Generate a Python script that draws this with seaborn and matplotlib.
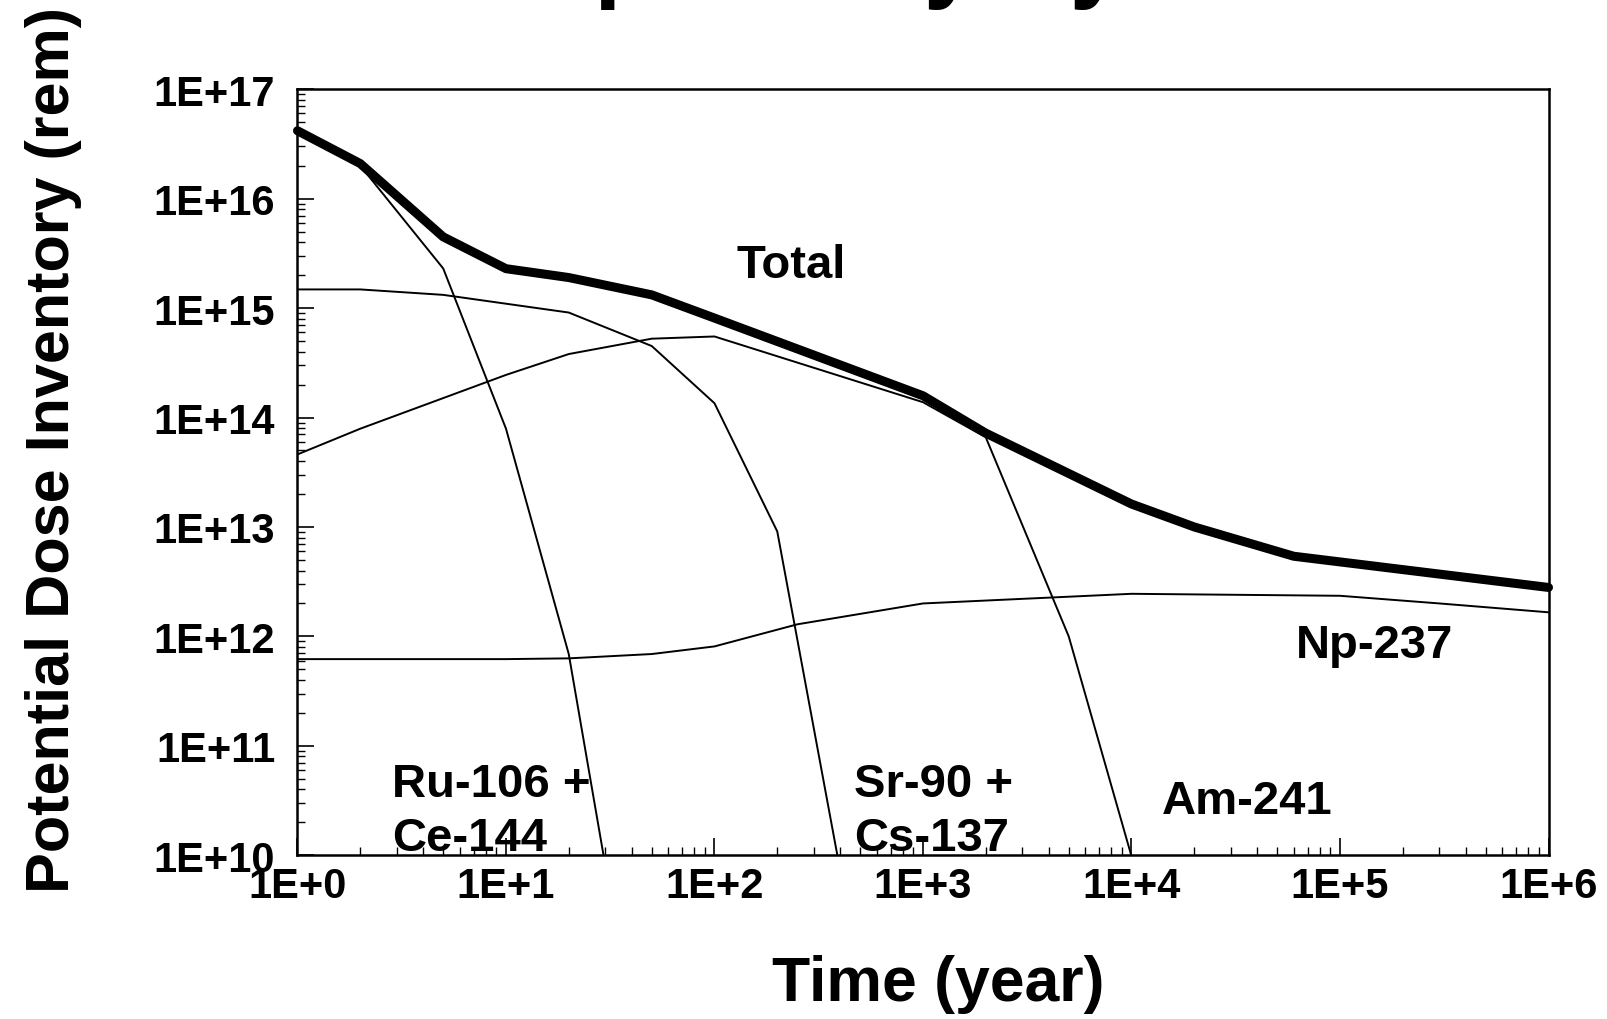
import matplotlib
matplotlib.use("Agg")
import matplotlib.pyplot as plt
import seaborn as sns
import numpy as np
import pandas as pd

# ---- data ----
total_t = [1, 2, 5, 10, 20, 50, 100, 1000, 2000, 1e4, 2e4, 6e4, 1e6]
total_v = [4.17e16, 2.09e16, 4.47e15, 2.29e15, 1.90e15, 1.32e15, 8.1e14,
           1.58e14, 7.2e13, 1.62e13, 1.0e13, 5.4e12, 2.8e12]

ru_t = [1, 2, 5, 10, 20, 30]
ru_v = [4.0e16, 2.0e16, 2.3e15, 7.9e13, 6.9e11, 7.9e9]

sr_t = [1, 2, 5, 20, 50, 100, 200, 400]
sr_v = [1.48e15, 1.48e15, 1.32e15, 9.1e14, 4.5e14, 1.35e14, 9.1e12, 7.4e9]

am_t = [1, 2, 10, 20, 50, 100, 1000, 2000, 5000, 1e4]
am_v = [4.6e13, 7.9e13, 2.45e14, 3.8e14, 5.25e14, 5.5e14, 1.38e14,
        6.6e13, 1.0e12, 9.8e9]

np_t = [1, 10, 20, 50, 100, 250, 1000, 1e4, 1e5, 3e5, 1e6]
np_v = [6.2e11, 6.2e11, 6.3e11, 6.9e11, 8.1e11, 1.29e12, 2.0e12,
        2.45e12, 2.35e12, 2.0e12, 1.66e12]

x_ticks = [1, 1e1, 1e2, 1e3, 1e4, 1e5, 1e6]
x_tick_labels = ["1E+0", "1E+1", "1E+2", "1E+3", "1E+4", "1E+5", "1E+6"]
y_ticks = [1e10, 1e11, 1e12, 1e13, 1e14, 1e15, 1e16, 1e17]
y_tick_labels = ["1E+10", "1E+11", "1E+12", "1E+13", "1E+14", "1E+15",
                 "1E+16", "1E+17"]

# ---- style ----
sns.set_theme(style="white")
plt.rcParams["font.family"] = ["Liberation Sans", "DejaVu Sans"]

fig = plt.figure(figsize=(16.08, 10.2), dpi=100)
ax = fig.add_axes([0.185, 0.1605, 0.778, 0.7511])

thin = dict(color="black", linewidth=1.4, estimator=None, sort=False, ax=ax)
sns.lineplot(x=ru_t, y=ru_v, **thin)
sns.lineplot(x=sr_t, y=sr_v, **thin)
sns.lineplot(x=am_t, y=am_v, **thin)
sns.lineplot(x=np_t, y=np_v, **thin)
sns.lineplot(x=total_t, y=total_v, color="black", linewidth=6.5,
             estimator=None, sort=False, ax=ax, solid_capstyle="round",
             solid_joinstyle="round", clip_on=False, zorder=5)

ax.set_xscale("log")
ax.set_yscale("log")
ax.set_xlim(1, 1e6)
ax.set_ylim(1e10, 1e17)

ax.set_xticks(x_ticks, x_tick_labels, fontweight="bold")
ax.set_yticks(y_ticks, y_tick_labels, fontweight="bold")
ax.xaxis.set_minor_locator(matplotlib.ticker.LogLocator(base=10, subs=np.arange(2, 10), numticks=20))
ax.yaxis.set_minor_locator(matplotlib.ticker.LogLocator(base=10, subs=np.arange(2, 10), numticks=20))
ax.xaxis.set_minor_formatter(matplotlib.ticker.NullFormatter())
ax.yaxis.set_minor_formatter(matplotlib.ticker.NullFormatter())

ax.tick_params(axis="both", which="major", direction="in", length=12,
               width=1.2, color="black", labelsize=30, labelcolor="black",
               bottom=True, left=True, top=False, right=False)
ax.tick_params(axis="both", which="minor", direction="in", length=6,
               width=1.0, color="black", bottom=True, left=True,
               top=False, right=False)
ax.tick_params(axis="y", which="major", pad=16)
ax.tick_params(axis="x", which="major", pad=8)

for s in ax.spines.values():
    s.set_color("black")
    s.set_linewidth(1.8)

ax.set_xlabel("Time (year)", fontsize=45, fontweight="bold", color="black")
ax.set_ylabel("Potential Dose Inventory (rem)", fontsize=44,
              fontweight="bold", color="black")
ax.xaxis.set_label_coords(0.512, -0.168)
ax.xaxis.label.set_va("center")
ax.yaxis.set_label_coords(-0.195, 0.53)
ax.yaxis.label.set_va("center")

lab = dict(fontsize=34, fontweight="bold", color="black", ha="left",
           va="baseline")
ax.text(10**2.105, 10**15.28, "Total", **lab)
ax.text(10**0.4525, 10**10.54, "Ru-106 +", **lab)
ax.text(10**0.4525, 10**10.05, "Ce-144", **lab)
ax.text(10**2.671, 10**10.54, "Sr-90 +", **lab)
ax.text(10**2.671, 10**10.05, "Cs-137", **lab)
ax.text(10**4.147, 10**10.39, "Am-241", **lab)
ax.text(10**4.786, 10**11.81, "Np-237", **lab)

# title, cut off at the top edge in the reference (only descenders show)
fig.text(0.292, 1 + 10 / 1020, "Repository System", fontsize=70,
         fontweight="bold", color="black", ha="left", va="baseline")

fig.savefig("out.png", dpi=100, facecolor="white")
